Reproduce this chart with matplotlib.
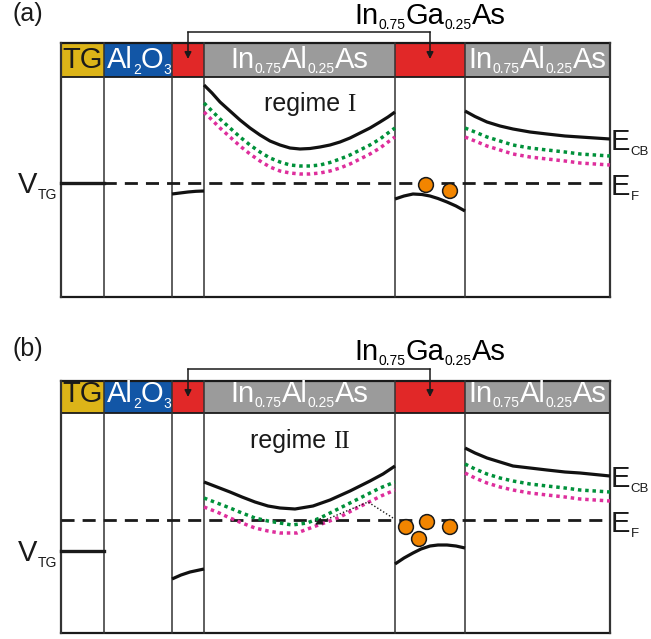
import matplotlib
matplotlib.use('Agg')
import matplotlib.pyplot as plt
from matplotlib.patches import Rectangle, Circle

W, H = 651, 639

# ---------------- layout / data (pixel-like schematic units) ----------------
layer_edges = [61, 104, 172, 204, 395, 465, 610]
layer_colors = ['#DCB418', '#1256A6', '#E12828', '#9B9B9B', '#E12828', '#9B9B9B']
panel_tops = [43, 381]
header_bottoms = [77, 413]
panel_bottoms = [297, 633]
fermi_levels = [183, 520]
vtg_levels = [183, 551]
panel_labels = ['(a)', '(b)']
regime_names = ['I', 'II']

# panel (a)
a_well1_x = [172, 180, 188, 196, 204]
a_well1_y = [194, 193, 192, 191.3, 191]
a_barrier_x = [204, 212, 220, 230, 240, 250, 260, 270, 280, 290, 300, 310, 320, 330, 340, 350, 360, 370, 380, 388, 395]
a_cb_y = [85, 93, 102, 111, 120, 128, 135, 141, 145, 148, 149, 148.5, 147, 145, 142, 138, 133, 128, 122, 117, 112]
a_green_y = [103, 111, 119, 128, 137, 145, 152, 158, 162, 165, 166, 166, 165, 162.5, 159, 155, 150, 145, 139, 133, 128]
a_pink_y = [112, 120, 128, 137, 146, 154, 161, 167, 171, 173, 174, 174, 173, 171, 168, 164, 159, 154, 148, 142, 137]
a_well2_x = [395, 404, 413, 422, 430, 438, 447, 456, 465]
a_well2_y = [199, 196, 194, 194.5, 196, 198.5, 202, 206, 211]
a_cap_x = [465, 475, 487, 500, 513, 530, 547, 565, 580, 595, 610]
a_cap_cb_y = [111, 116.5, 122, 126, 129, 132, 134, 136, 137, 138, 139]
a_cap_green_y = [128, 132, 137, 141, 145, 148, 150, 152, 154, 155, 156]
a_cap_pink_y = [137, 141, 146, 150, 154, 157, 159, 161, 163, 164, 165]
a_elec_x = [426, 450]
a_elec_y = [185, 191]

# panel (b)
b_well1_x = [172, 181, 190, 197, 204]
b_well1_y = [579, 575, 572, 570.5, 569]
b_barrier_x = [204, 217, 230, 242, 255, 268, 280, 295, 313, 330, 350, 370, 383, 395]
b_cb_y = [482, 487, 492, 497, 502, 506, 508, 509, 506, 500, 491, 481, 474, 466]
b_green_x = [204, 217, 230, 242, 255, 268, 280, 292, 307, 320, 330, 340, 350, 360, 370, 380, 395]
b_green_y = [498, 503, 508, 513, 518, 521, 523, 525, 523, 518, 513, 508, 503, 498, 493, 488, 482]
b_pink_x = [204, 217, 230, 242, 255, 268, 280, 297, 313, 327, 340, 353, 367, 381, 395]
b_pink_y = [507, 512, 518, 523, 528, 531, 533, 533, 527, 522, 517, 510, 503, 496, 490]
b_well2_x = [395, 404, 413, 421, 430, 438, 447, 456, 465]
b_well2_y = [564, 558, 553, 549, 546, 545, 545, 546, 548]
b_cap_x = [465, 475, 487, 500, 513, 530, 547, 565, 580, 595, 610]
b_cap_cb_y = [448, 453, 458, 462, 466, 468, 470, 472, 473, 474.5, 476]
b_cap_green_y = [464, 469, 474, 478, 481, 484, 486, 488, 490, 491, 492]
b_cap_pink_y = [473, 478, 483, 487, 490, 493, 495, 497, 499, 500, 501]
b_elec_x = [406, 427, 419, 450]
b_elec_y = [527, 522, 539, 527]
b_arrow_x = [393, 368, 318]
b_arrow_y = [518, 502, 523]

GREEN = '#00913A'
PINK = '#DE2E9C'
ORANGE = '#F28500'
SANS = 'Liberation Sans'
SERIF = 'Liberation Serif'

fig = plt.figure(figsize=(W / 100, H / 100), dpi=100)
ax = fig.add_axes([0, 0, 1, 1])
ax.set_xlim(0, W)
ax.set_ylim(H, 0)
ax.axis('off')
renderer = fig.canvas.get_renderer()


def rich(x, y, parts, color='black', ha='center'):
    """parts: list of (text, fontsize, dy, family); y is baseline."""
    objs, widths = [], []
    for s, fs, dy, fam in parts:
        t = ax.text(0, 0, s, fontsize=fs, color=color, family=fam,
                    va='baseline', ha='left')
        widths.append(t.get_window_extent(renderer).width)
        objs.append(t)
    total = sum(widths)
    x0 = x - total / 2 if ha == 'center' else x
    for t, w, p in zip(objs, widths, parts):
        t.set_position((x0, y + p[2]))
        x0 += w


def sub_parts(tokens, big=21, small=10, dy=5):
    out = []
    for s, is_sub in tokens:
        out.append((s, small if is_sub else big, dy if is_sub else 0, SANS))
    return out


inalas = [('In', 0), ('0.75', 1), ('Al', 0), ('0.25', 1), ('As', 0)]
ingaas = [('In', 0), ('0.75', 1), ('Ga', 0), ('0.25', 1), ('As', 0)]
al2o3 = [('Al', 0), ('2', 1), ('O', 0), ('3', 1)]

SOLID_KW = dict(color='#111111', lw=2.3, solid_joinstyle='round', solid_capstyle='butt')
DOT_KW = dict(lw=2.5, dashes=(1, 1.1), solid_capstyle='butt', dash_capstyle='butt')

panels = [
    dict(w1x=a_well1_x, w1y=a_well1_y, bx=a_barrier_x, cb=a_cb_y,
         gx=a_barrier_x, gy=a_green_y, px=a_barrier_x, py=a_pink_y,
         w2x=a_well2_x, w2y=a_well2_y, cx=a_cap_x, ccb=a_cap_cb_y,
         cg=a_cap_green_y, cp=a_cap_pink_y, ex=a_elec_x, ey=a_elec_y),
    dict(w1x=b_well1_x, w1y=b_well1_y, bx=b_barrier_x, cb=b_cb_y,
         gx=b_green_x, gy=b_green_y, px=b_pink_x, py=b_pink_y,
         w2x=b_well2_x, w2y=b_well2_y, cx=b_cap_x, ccb=b_cap_cb_y,
         cg=b_cap_green_y, cp=b_cap_pink_y, ex=b_elec_x, ey=b_elec_y),
]

for i, P in enumerate(panels):
    top, hb, bot = panel_tops[i], header_bottoms[i], panel_bottoms[i]
    ef, vtg = fermi_levels[i], vtg_levels[i]

    # header colour blocks
    for j in range(6):
        ax.add_patch(Rectangle((layer_edges[j], top), layer_edges[j + 1] - layer_edges[j],
                               hb - top, facecolor=layer_colors[j], edgecolor='none', zorder=1))
    # frame
    ax.plot([layer_edges[0], layer_edges[-1]], [top, top], color='#1a1a1a', lw=1.6, zorder=3)
    ax.plot([layer_edges[0], layer_edges[-1]], [hb, hb], color='#1a1a1a', lw=1.3, zorder=3)
    ax.plot([layer_edges[0], layer_edges[-1]], [bot, bot], color='#1a1a1a', lw=1.6, zorder=3)
    for j, xe in enumerate(layer_edges):
        lw = 1.6 if j in (0, len(layer_edges) - 1) else 1.1
        ax.plot([xe, xe], [top, bot], color='#333333', lw=lw, zorder=3)

    # header texts
    base = 68 if i == 0 else 402
    rich((layer_edges[0] + layer_edges[1]) / 2, base, [('TG', 21, 0, SANS)], color='#1a1a1a')
    rich((layer_edges[1] + layer_edges[2]) / 2 + 1, base, sub_parts(al2o3, dy=6), color='white')
    rich((layer_edges[3] + layer_edges[4]) / 2, base, sub_parts(inalas), color='white')
    rich((layer_edges[5] + layer_edges[6]) / 2, base, sub_parts(inalas), color='white')

    # top label with bracket
    lab_base = 24 if i == 0 else 360
    br_y = 32 if i == 0 else 369
    rich(430, lab_base, sub_parts(ingaas))
    ax.plot([188, 430], [br_y, br_y], color='#1a1a1a', lw=1.1, zorder=4)
    for xa in (188, 430):
        ax.annotate('', xy=(xa, top + 16), xytext=(xa, br_y),
                    arrowprops=dict(arrowstyle='-|>', lw=1.1, color='#1a1a1a',
                                    mutation_scale=10, shrinkA=0, shrinkB=0), zorder=4)

    # panel label
    ax.text(12, 21 if i == 0 else 356, panel_labels[i], fontsize=18, family=SANS,
            va='baseline', ha='left', color='#1a1a1a')

    # Fermi level and gate level
    ax.plot([layer_edges[0], layer_edges[-1]], [ef, ef], color='#1a1a1a', lw=2.0,
            dashes=(4.7, 2.9), zorder=5)
    ax.plot([layer_edges[0], layer_edges[1]], [vtg, vtg], color='#1a1a1a', lw=2.4, zorder=6)
    rich(18, vtg + 10, [('V', 21, 0, SANS), ('TG', 10, 6, SANS)], ha='left', color='#1a1a1a')

    # band curves
    ax.plot(P['w1x'], P['w1y'], zorder=6, **SOLID_KW)
    ax.plot(P['bx'], P['cb'], zorder=6, **SOLID_KW)
    ax.plot(P['gx'], P['gy'], color=GREEN, zorder=6, **DOT_KW)
    ax.plot(P['px'], P['py'], color=PINK, zorder=6, **DOT_KW)
    ax.plot(P['w2x'], P['w2y'], zorder=6, **SOLID_KW)
    ax.plot(P['cx'], P['ccb'], zorder=6, **SOLID_KW)
    ax.plot(P['cx'], P['cg'], color=GREEN, zorder=6, **DOT_KW)
    ax.plot(P['cx'], P['cp'], color=PINK, zorder=6, **DOT_KW)

    # electrons
    for ex, ey in zip(P['ex'], P['ey']):
        ax.add_patch(Circle((ex, ey), 7.4, facecolor=ORANGE, edgecolor='#1a1a1a',
                            lw=1.1, zorder=8))

    # right labels
    rich(611, P['ccb'][-1] + 11, [('E', 21, 0, SANS), ('CB', 9.5, 5, SANS)], ha='left', color='#1a1a1a')
    rich(611, ef + 12, [('E', 21, 0, SANS), ('F', 9.5, 5, SANS)], ha='left', color='#1a1a1a')

    # regime label
    if i == 0:
        rich(310, 111, [('regime ', 18, 0, SANS), (regime_names[i], 18, 0, SERIF)], color='#1a1a1a')
    else:
        rich(300, 448, [('regime ', 18, 0, SANS), (regime_names[i], 18, 0, SERIF)], color='#1a1a1a')

# dotted arrow in panel (b)
ax.plot(b_arrow_x, b_arrow_y, color='#1a1a1a', lw=1.0, ls=(0, (1, 1.5)), zorder=7)
ax.annotate('', xy=(b_arrow_x[-1] - 3, b_arrow_y[-1] + 1.5),
            xytext=(b_arrow_x[-1] + 4, b_arrow_y[-1] - 2),
            arrowprops=dict(arrowstyle='-|>', lw=0.8, color='#1a1a1a',
                            mutation_scale=11, shrinkA=0, shrinkB=0), zorder=7)

fig.savefig('out.png', dpi=100)
